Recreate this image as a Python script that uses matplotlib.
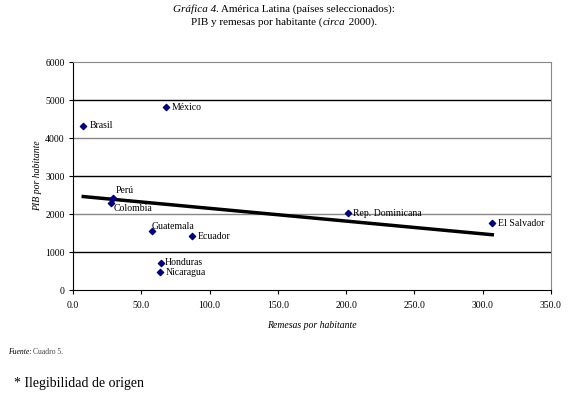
import numpy as np
import matplotlib.pyplot as plt

# data
paises = ['Brasil', 'México', 'Perú', 'Colombia', 'Guatemala', 'Ecuador',
          'Honduras', 'Nicaragua', 'Rep. Dominicana', 'El Salvador']
remesas = [7.5, 68.0, 29.0, 27.6, 57.6, 86.9, 64.4, 63.7, 201.0, 307.0]
pib = [4316, 4807, 2412, 2281, 1552, 1421, 719, 482, 2026, 1763]

x_ticks = [0, 50, 100, 150, 200, 250, 300, 350]
y_ticks = [0, 1000, 2000, 3000, 4000, 5000, 6000]

# label offsets in pixels (style only)
offsets = {'Brasil': (6, 0), 'México': (6, 0), 'Perú': (3, 8), 'Colombia': (3, -5),
           'Guatemala': (0, 5), 'Ecuador': (6, 0), 'Honduras': (4, 0),
           'Nicaragua': (6, -1), 'Rep. Dominicana': (5, 0), 'El Salvador': (6, 0)}

plt.rcParams['font.family'] = ['Liberation Serif', 'DejaVu Serif']

fig = plt.figure(figsize=(5.68, 3.95), dpi=100)
ax = fig.add_axes([73/568, 1 - 290/395, (551 - 73)/568, (290 - 62)/395])

ax.set_xlim(0, 350)
ax.set_ylim(0, 6000)

# gridlines, alternating dark/grey like the scanned original
for v in y_ticks[1:-1]:
    col = 'black' if v in (1000, 3000, 5000) else '#888888'
    ax.axhline(v, color=col, lw=1, zorder=1)

ax.scatter(remesas, pib, marker='D', s=10, color='#000080', zorder=3)

# linear trend
b, a = np.polyfit(remesas, pib, 1)
xs = np.array([min(remesas), max(remesas)])
ax.plot(xs, a + b*xs, color='black', lw=2.5, zorder=2)

for p, xv, yv in zip(paises, remesas, pib):
    ax.annotate(p, (xv, yv), xytext=offsets[p], textcoords='offset pixels',
                fontsize=7, va='center', ha='left')

ax.set_xticks(x_ticks)
ax.set_xticklabels([f'{v:.1f}' for v in x_ticks])
ax.set_yticks(y_ticks)
ax.tick_params(labelsize=7, length=3, direction='out', width=0.8, pad=3)
ax.tick_params(axis='x', pad=5)

for s in ['top', 'right']:
    ax.spines[s].set_color('#888888')
for s in ['left', 'bottom']:
    ax.spines[s].set_color('black')

ax.set_xlabel('Remesas por habitante', fontsize=7, style='italic', labelpad=8)
ax.set_ylabel('PIB por habitante', fontsize=7, style='italic', labelpad=2)

# title built from pieces to mix italic and roman
def line(parts, y):
    texts = []
    prev = None
    for txt, st in parts:
        if prev is None:
            t = fig.text(0, y, txt, fontsize=8, style=st, va='baseline', ha='left')
        else:
            t = ax.annotate(txt, xy=(1, 0), xycoords=prev, va='bottom', ha='left',
                            fontsize=8, style=st, annotation_clip=False)
        texts.append(t)
        prev = t
    return texts

l1 = line([('Gráfica 4', 'italic'), ('. América Latina (países seleccionados):', 'normal')],
          1 - 12/395)
l2 = line([('PIB y remesas por habitante (', 'normal'), ('circa', 'italic'),
           (' 2000).', 'normal')], 1 - 25/395)

fig.canvas.draw()
r = fig.canvas.get_renderer()
for texts in (l1, l2):
    w = sum(t.get_window_extent(r).width for t in texts)
    texts[0].set_x((284 - w/2) / 568)

fig.text(8/568, 1 - 352/395, 'Fuente:', fontsize=5.5, style='italic', va='center')
fig.text(33/568, 1 - 352/395, 'Cuadro 5.', fontsize=5.5, va='center', color='#444444')
fig.text(14/568, 1 - 383/395, '* Ilegibilidad de origen', fontsize=10, va='center')

fig.savefig('out.png', dpi=100)
